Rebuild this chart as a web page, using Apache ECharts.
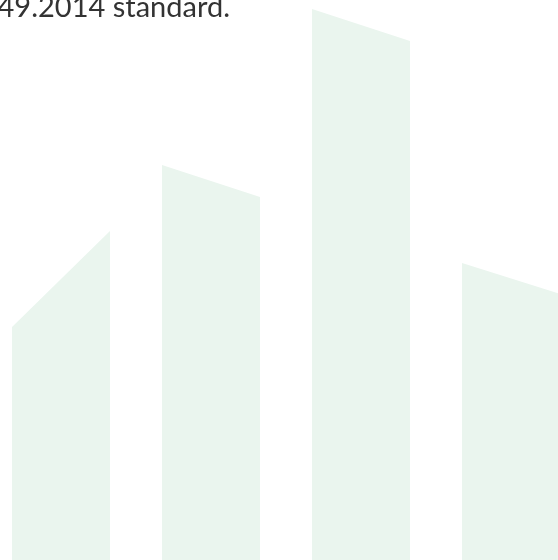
<!DOCTYPE html>
<html><head><meta charset="utf-8">
<script src="https://cdn.jsdelivr.net/npm/echarts@6/dist/echarts.min.js"></script>
<style>html,body{margin:0;padding:0;background:#fff}#c{width:558px;height:560px}</style>
</head><body><div id="c"></div>
<script>
var categories = [0, 1, 2, 3];
var leftTops = [233, 395, 551, 297];
var rightTops = [329, 363, 519, 266];
var captionText = '49.2014 standard.';

var chart = echarts.init(document.getElementById('c'));
var data = categories.map(function (c, i) { return [c, leftTops[i], rightTops[i]]; });
chart.setOption({
  animation: false,
  grid: { left: 0, right: 0, top: 0, bottom: 0 },
  xAxis: { type: 'value', min: -0.4067, max: 3.3133, show: false },
  yAxis: { type: 'value', min: 0, max: 560, show: false },
  series: [{
    type: 'custom',
    data: data,
    clip: false,
    renderItem: function (params, api) {
      var idx = api.value(0);
      var center = api.coord([idx, 0]);
      var band = api.size([1, 0])[0];
      var w = band * 0.653;
      var x0 = center[0] - w / 2, x1 = center[0] + w / 2;
      var yl = api.coord([idx, api.value(1)])[1];
      var yr = api.coord([idx, api.value(2)])[1];
      var yb = api.coord([idx, 0])[1];
      return {
        type: 'polygon',
        shape: { points: [[x0, yb], [x0, yl], [x1, yr], [x1, yb]] },
        style: { fill: '#eaf5ee' }
      };
    }
  }],
  graphic: [{
    type: 'text',
    x: 230, y: 22,
    style: {
      text: captionText,
      fill: '#333333',
      font: '29px Lato',
      textAlign: 'right',
      textVerticalAlign: 'bottom'
    }
  }]
});
</script></body></html>
